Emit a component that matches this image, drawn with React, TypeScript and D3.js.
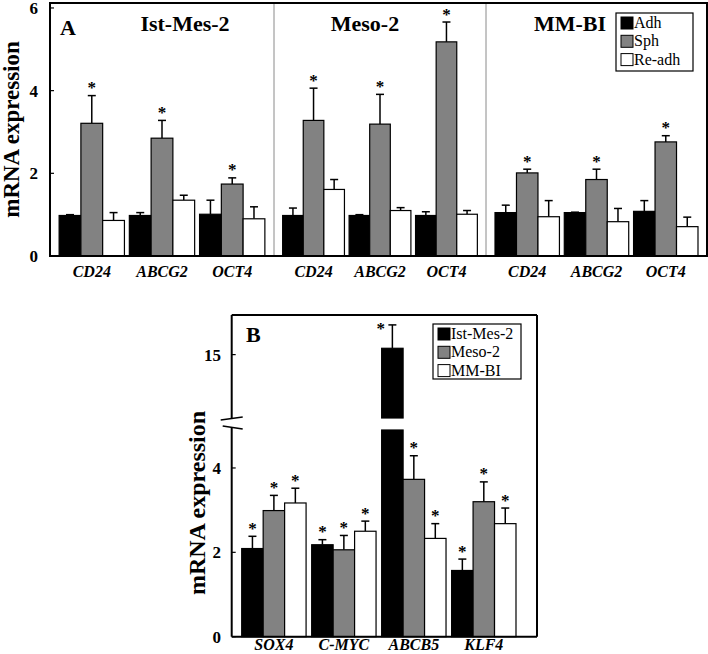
import React from "react";
import * as d3 from "d3";

// ---------- Data: panel A ----------
const cellLinesA = ["Ist-Mes-2", "Meso-2", "MM-BI"];
const genesA = ["CD24", "ABCG2", "OCT4"];
const seriesA = ["Adh", "Sph", "Re-adh"];
// values ordered cell line by cell line, gene by gene
const adhValues = [0.98, 0.98, 1.01, 0.98, 0.98, 0.98, 1.05, 1.05, 1.08];
const adhErrors = [0.02, 0.07, 0.34, 0.18, 0.02, 0.09, 0.18, 0.01, 0.26];
const sphValues = [3.21, 2.85, 1.74, 3.28, 3.19, 5.18, 2.01, 1.85, 2.76];
const sphErrors = [0.67, 0.43, 0.15, 0.78, 0.72, 0.48, 0.09, 0.25, 0.15];
const readhValues = [0.86, 1.35, 0.9, 1.61, 1.1, 1.01, 0.95, 0.83, 0.71];
const readhErrors = [0.19, 0.12, 0.29, 0.24, 0.07, 0.09, 0.39, 0.32, 0.23];
const sigA = [false, true, false];
const ticksA = [0, 2, 4, 6];

// ---------- Data: panel B ----------
const genesB = ["SOX4", "C-MYC", "ABCB5", "KLF4"];
const seriesB = ["Ist-Mes-2", "Meso-2", "MM-BI"];
const istValues = [2.09, 2.18, 15.16, 1.57];
const istErrors = [0.29, 0.12, 0.59, 0.27];
const mesoValues = [2.99, 2.06, 3.73, 3.2];
const mesoErrors = [0.36, 0.34, 0.56, 0.47];
const mmbiValues = [3.17, 2.5, 2.33, 2.68];
const mmbiErrors = [0.35, 0.24, 0.35, 0.37];
const sigB = [true, true, true];
const ticksBLow = [0, 2, 4];
const ticksBHigh = [15];

const colors = ["#000000", "#828282", "#ffffff"];
const FONT = "'Liberation Serif', 'Times New Roman', serif";

// ---------- Layout ----------
const A = { left: 50, right: 707, top: 3, bottom: 256 };
const panelEdges = [50, 274, 486, 707];
const titleXA = [185, 365, 570];
const B = { left: 231.7, right: 537, top: 315, bottom: 636.7, breakTop: 418, breakBottom: 430 };

export default function App() {
  const yA = d3.scaleLinear().domain([0, 6.12]).range([A.bottom, A.top]);

  const barsA: any[] = [];
  const labelsA: any[] = [];
  const seriesValsA = [adhValues, sphValues, readhValues];
  const seriesErrsA = [adhErrors, sphErrors, readhErrors];

  cellLinesA.forEach((cl, ci) => {
    const gx = d3
      .scaleBand<string>()
      .domain(genesA)
      .range([panelEdges[ci], panelEdges[ci + 1]])
      .paddingInner(0.07)
      .paddingOuter(0.13);
    genesA.forEach((g, gi) => {
      const x0 = gx(g)!;
      const bw = gx.bandwidth();
      const sx = d3.scaleBand<string>().domain(seriesA).range([x0, x0 + bw]);
      labelsA.push(
        <text key={`la-${ci}-${gi}`} x={x0 + bw / 2} y={277} textAnchor="middle"
          fontFamily={FONT} fontStyle="italic" fontWeight="bold" fontSize={16}>{g}</text>
      );
      seriesA.forEach((s, si) => {
        const idx = ci * genesA.length + gi;
        const v = seriesValsA[si][idx];
        const e = seriesErrsA[si][idx];
        const bx = sx(s)!;
        const w = sx.bandwidth();
        const cx = bx + w / 2;
        const ty = yA(v + e);
        barsA.push(
          <g key={`ba-${ci}-${gi}-${si}`}>
            <line x1={cx} x2={cx} y1={yA(v)} y2={ty} stroke="#000" strokeWidth={1.5} />
            <line x1={cx - 4} x2={cx + 4} y1={ty} y2={ty} stroke="#000" strokeWidth={1.5} />
            <rect x={bx} y={yA(v)} width={w} height={yA(0) - yA(v)} fill={colors[si]} stroke="#000" strokeWidth={1.2} />
            {sigA[si] && (
              <text x={cx} y={ty - 10 + 7.5} textAnchor="middle" fontFamily={FONT} fontWeight="bold" fontSize={17}>*</text>
            )}
          </g>
        );
      });
    });
  });

  // Panel B scales (broken axis)
  const yLow = d3.scaleLinear().domain([0, 4.9]).range([B.bottom, B.breakBottom]);
  const yHigh = d3.scaleLinear().domain([13.4, 16]).range([B.breakTop, B.top]);
  const lowMax = yLow.domain()[1];
  const yB = (v: number) => (v <= lowMax ? yLow(v) : yHigh(v));
  const gxB = d3
    .scaleBand<string>()
    .domain(genesB)
    .range([B.left, 526])
    .paddingInner(0.08)
    .paddingOuter(0.143);
  const seriesValsB = [istValues, mesoValues, mmbiValues];
  const seriesErrsB = [istErrors, mesoErrors, mmbiErrors];

  const barsB: any[] = [];
  const labelsB: any[] = [];
  genesB.forEach((g, gi) => {
    const x0 = gxB(g)!;
    const bw = gxB.bandwidth();
    const sx = d3.scaleBand<string>().domain(seriesB).range([x0, x0 + bw]);
    labelsB.push(
      <text key={`lb-${gi}`} x={x0 + bw / 2} y={650} textAnchor="middle"
        fontFamily={FONT} fontStyle="italic" fontWeight="bold" fontSize={16}>{g}</text>
    );
    seriesB.forEach((s, si) => {
      const v = seriesValsB[si][gi];
      const e = seriesErrsB[si][gi];
      const bx = sx(s)!;
      const w = sx.bandwidth();
      const cx = bx + w / 2;
      const ty = yB(v + e);
      const broken = v > lowMax;
      const starAbove = ty - 10 > B.top + 6;
      barsB.push(
        <g key={`bb-${gi}-${si}`}>
          <line x1={cx} x2={cx} y1={yB(v)} y2={ty} stroke="#000" strokeWidth={1.5} />
          <line x1={cx - 4} x2={cx + 4} y1={ty} y2={ty} stroke="#000" strokeWidth={1.5} />
          {broken ? (
            <>
              <rect x={bx} y={yLow(lowMax)} width={w} height={yLow(0) - yLow(lowMax)} fill={colors[si]} stroke="#000" strokeWidth={1.2} />
              <rect x={bx} y={yHigh(v)} width={w} height={yHigh(yHigh.domain()[0]) - yHigh(v)} fill={colors[si]} stroke="#000" strokeWidth={1.2} />
            </>
          ) : (
            <rect x={bx} y={yB(v)} width={w} height={yLow(0) - yB(v)} fill={colors[si]} stroke="#000" strokeWidth={1.2} />
          )}
          {sigB[si] &&
            (starAbove ? (
              <text x={cx} y={ty - 10 + 7.5} textAnchor="middle" fontFamily={FONT} fontWeight="bold" fontSize={17}>*</text>
            ) : (
              <text x={bx - 1} y={ty + 2 + 7.5} textAnchor="middle" fontFamily={FONT} fontWeight="bold" fontSize={17}>*</text>
            ))}
        </g>
      );
    });
  });

  const legend = (x: number, y: number, w: number, h: number, names: string[], key: string) => (
    <g key={key}>
      <rect x={x} y={y} width={w} height={h} fill="#fff" stroke="#000" strokeWidth={1.2} />
      {names.map((n, i) => (
        <g key={n}>
          <rect x={x + 5} y={y + 4 + i * 18.3} width={12} height={12} fill={colors[i]} stroke="#000" strokeWidth={1} />
          <text x={x + 18} y={y + 15 + i * 18.3} fontFamily={FONT} fontSize={16}>{n}</text>
        </g>
      ))}
    </g>
  );

  return (
    <svg width={708} height={654} style={{ position: "absolute", left: 0, top: 0, display: "block" }}>
      <rect x={0} y={0} width={708} height={654} fill="#fff" />
      {/* Panel A */}
      {panelEdges.slice(1, -1).map((x, i) => (
        <line key={`div-${i}`} x1={x} x2={x} y1={A.top} y2={A.bottom} stroke="#8a8a8a" strokeWidth={1} />
      ))}
      {barsA}
      <rect x={A.left} y={A.top} width={A.right - A.left} height={A.bottom - A.top} fill="none" stroke="#000" strokeWidth={2} />
      {ticksA.map((t) => (
        <g key={`ta-${t}`}>
          <line x1={A.left} x2={A.left + 4} y1={yA(t)} y2={yA(t)} stroke="#000" strokeWidth={1.2} />
          <text x={38} y={yA(t) + 6} textAnchor="end" fontFamily={FONT} fontWeight="bold" fontSize={17}>{t}</text>
        </g>
      ))}
      {labelsA}
      <text x={60} y={35} fontFamily={FONT} fontWeight="bold" fontSize={22}>A</text>
      {cellLinesA.map((c, i) => (
        <text key={`t-${c}`} x={titleXA[i]} y={31} textAnchor="middle" fontFamily={FONT} fontWeight="bold" fontSize={22}>{c}</text>
      ))}
      <text transform={`translate(19,${(A.top + A.bottom) / 2}) rotate(-90)`} textAnchor="middle"
        fontFamily={FONT} fontWeight="bold" fontSize={23}>mRNA expression</text>
      {legend(616, 13, 77, 58, seriesA, "lega")}

      {/* Panel B */}
      {barsB}
      <line x1={B.left} x2={B.right} y1={B.top} y2={B.top} stroke="#000" strokeWidth={2} />
      <line x1={B.right} x2={B.right} y1={B.top} y2={B.bottom} stroke="#000" strokeWidth={2} />
      <line x1={B.left} x2={B.right} y1={B.bottom} y2={B.bottom} stroke="#000" strokeWidth={2} />
      <line x1={B.left} x2={B.left} y1={B.top} y2={B.breakTop} stroke="#000" strokeWidth={2} />
      <line x1={B.left} x2={B.left} y1={B.breakBottom - 2} y2={B.bottom} stroke="#000" strokeWidth={2} />
      <line x1={B.left - 11} x2={B.left + 11} y1={B.breakTop + 2} y2={B.breakTop - 1} stroke="#000" strokeWidth={1.5} />
      <line x1={B.left - 9} x2={B.left + 11} y1={B.breakBottom - 4} y2={B.breakBottom - 1} stroke="#000" strokeWidth={1.5} />
      {ticksBLow.map((t) => (
        <g key={`tbl-${t}`}>
          <line x1={B.left} x2={B.left + 4} y1={yLow(t)} y2={yLow(t)} stroke="#000" strokeWidth={1.2} />
          <text x={221} y={yLow(t) + 6} textAnchor="end" fontFamily={FONT} fontWeight="bold" fontSize={17}>{t}</text>
        </g>
      ))}
      {ticksBHigh.map((t) => (
        <g key={`tbh-${t}`}>
          <line x1={B.left} x2={B.left + 4} y1={yHigh(t)} y2={yHigh(t)} stroke="#000" strokeWidth={1.2} />
          <text x={221} y={yHigh(t) + 6} textAnchor="end" fontFamily={FONT} fontWeight="bold" fontSize={17}>{t}</text>
        </g>
      ))}
      {labelsB}
      <text x={246} y={342} fontFamily={FONT} fontWeight="bold" fontSize={22}>B</text>
      <text transform={`translate(205,${503}) rotate(-90)`} textAnchor="middle"
        fontFamily={FONT} fontWeight="bold" fontSize={24}>mRNA expression</text>
      {legend(433, 324, 88, 55, seriesB, "legb")}
    </svg>
  );
}
